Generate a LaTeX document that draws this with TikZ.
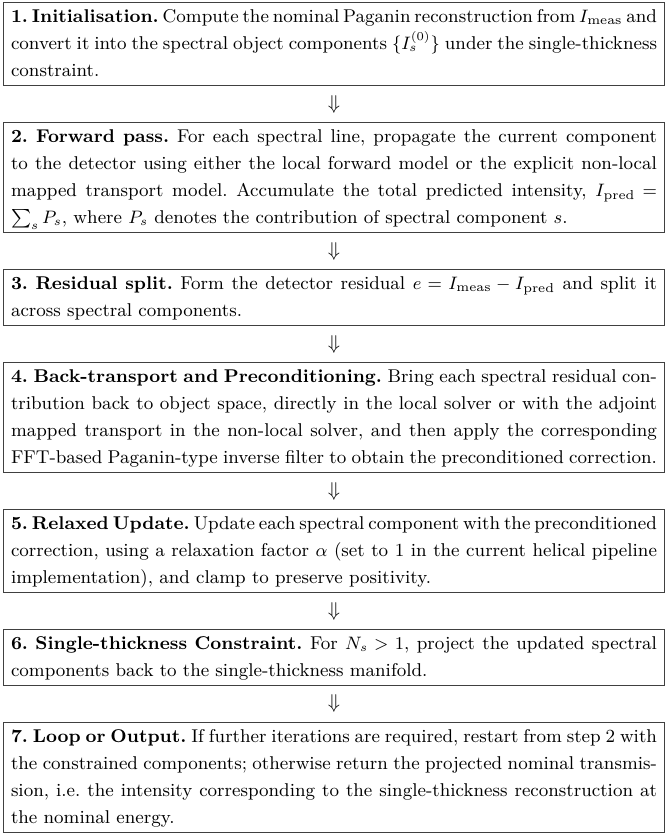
\documentclass[tikz,border=0pt]{standalone}
\usepackage{amsmath}
\usepackage{amssymb}
\usetikzlibrary{positioning}
\newcommand{\stepfont}{\fontsize{9.25}{13.5}\selectfont\frenchspacing
  \spaceskip=3.1pt plus 3pt minus 1.7pt\relax\tolerance=10000\relax}
\tikzset{
  stepbox/.style={draw=black!75, line width=0.6pt, inner xsep=3.7pt,
    inner ysep=0.5pt, text width=323pt, align=justify, font=\stepfont},
  flowarrow/.style={inner sep=0pt, font=\fontsize{10}{12}\selectfont}
}
\newcommand{\stephead}[1]{\strut\textbf{#1}}

\begin{document}
\begin{tikzpicture}[x=0.5pt,y=-0.5pt,node distance=4.3pt]
\useasboundingbox (0,0) rectangle (668,839);
% step 1
\node[stepbox,anchor=north] (init) at (334,2)
  {\stephead{1. Initialisation.} Compute the nominal Paganin reconstruction from $I_{\text{meas}}$ and\linebreak
   convert it into the spectral object components $\{I_s^{(0)}\}$ under the single-thickness\linebreak
   constraint.\strut};
\node[flowarrow,below=of init] (a1) {$\Downarrow$};
% step 2
\node[stepbox,below=of a1] (fwd)
  {\stephead{2. Forward pass.} For each spectral line, propagate the current component\linebreak
   to the detector using either the local forward model or the explicit non-local\linebreak
   mapped transport model. Accumulate the total predicted intensity, $I_{\text{pred}} =$\linebreak
   $\sum_s P_s$, where $P_s$ denotes the contribution of spectral component $s$.\strut};
\node[flowarrow,below=of fwd] (a2) {$\Downarrow$};
% step 3
\node[stepbox,below=of a2] (resid)
  {\stephead{3. Residual split.} Form the detector residual $e = I_{\text{meas}} - I_{\text{pred}}$ and split it\linebreak
   across spectral components.\strut};
\node[flowarrow,below=of resid] (a3) {$\Downarrow$};
% step 4
\node[stepbox,below=of a3] (back)
  {\stephead{4. Back-transport and Preconditioning.} Bring each spectral residual con-\linebreak
   tribution back to object space, directly in the local solver or with the adjoint\linebreak
   mapped transport in the non-local solver, and then apply the corresponding\linebreak
   FFT-based Paganin-type inverse filter to obtain the preconditioned correction.\strut};
\node[flowarrow,below=of back] (a4) {$\Downarrow$};
% step 5
\node[stepbox,below=of a4] (relax)
  {\stephead{5. Relaxed Update.} Update each spectral component with the preconditioned\linebreak
   correction, using a relaxation factor $\alpha$ (set to 1 in the current helical pipeline\linebreak
   implementation), and clamp to preserve positivity.\strut};
\node[flowarrow,below=of relax] (a5) {$\Downarrow$};
% step 6
\node[stepbox,below=of a5] (single)
  {\stephead{6. Single-thickness Constraint.} For $N_s > 1$, project the updated spectral\linebreak
   components back to the single-thickness manifold.\strut};
\node[flowarrow,below=of single] (a6) {$\Downarrow$};
% step 7
\node[stepbox,below=of a6] (loop)
  {\stephead{7. Loop or Output.} If further iterations are required, restart from step 2 with\linebreak
   the constrained components; otherwise return the projected nominal transmis-\linebreak
   sion, i.e. the intensity corresponding to the single-thickness reconstruction at\linebreak
   the nominal energy.\strut};
\end{tikzpicture}
\end{document}
